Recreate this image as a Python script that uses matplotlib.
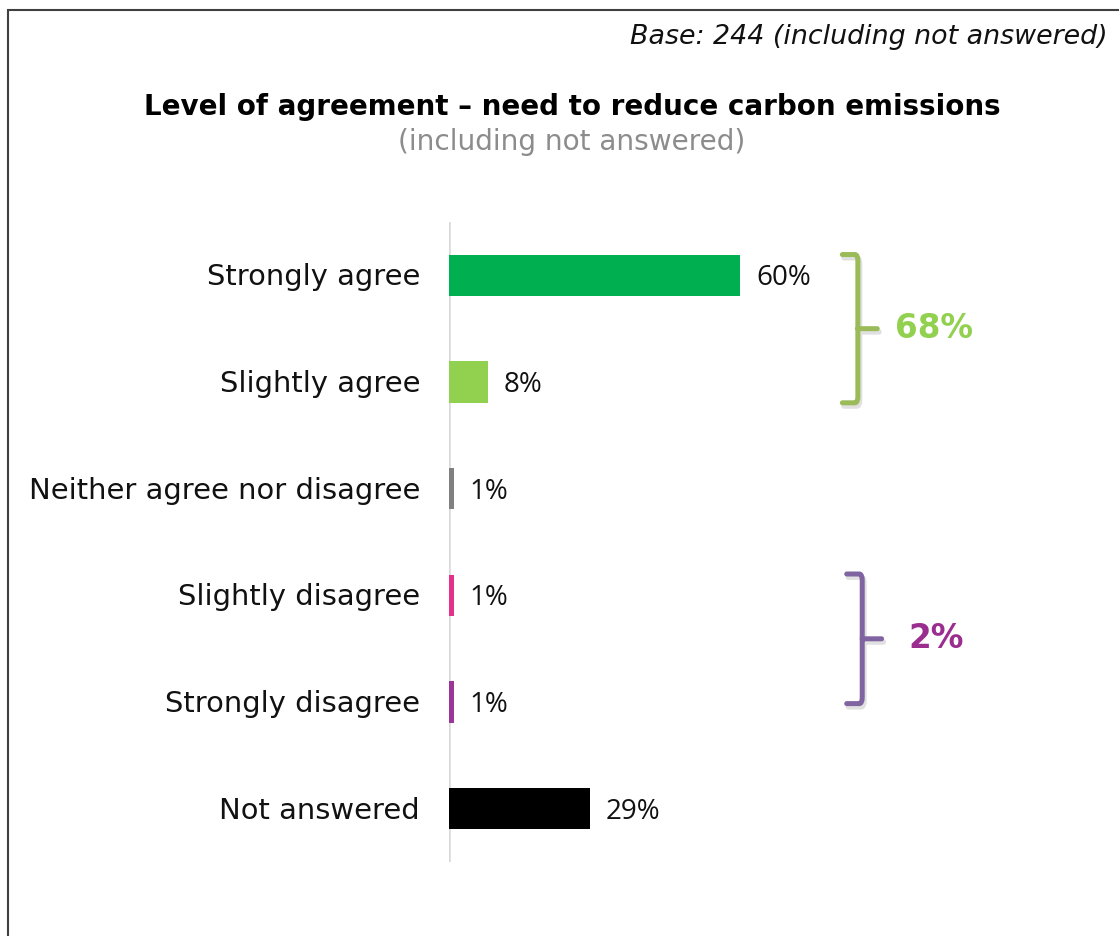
import numpy as np
import matplotlib
matplotlib.use('Agg')
import matplotlib.pyplot as plt
from matplotlib.path import Path
from matplotlib.patches import PathPatch, Rectangle

categories = ['Strongly agree', 'Slightly agree', 'Neither agree nor disagree',
              'Slightly disagree', 'Strongly disagree', 'Not answered']
values = [60, 8, 1, 1, 1, 29]
colors = ['#00B050', '#92D050', '#808080', '#E6318C', '#9B3597', '#000000']

# groups summed into the bracket totals
agree_idx = [0, 1]
disagree_idx = [3, 4]

fig = plt.figure(figsize=(11.19, 9.36), dpi=100)
W, H = 1119, 936

# outer frame
fig.patches.append(Rectangle((8 / W, -0.1), 1.2, (936 - 10) / H + 0.1, transform=fig.transFigure,
                             fill=False, edgecolor='#404040', linewidth=1.5))

# axes: left edge at the zero line, 4.85 px per percent
ax_left, ax_top, ax_bot = 449, 222, 862
ax = fig.add_axes([ax_left / W, 1 - ax_bot / H, (W - ax_left) / W, (ax_bot - ax_top) / H])
ax.set_xlim(0, (W - ax_left) / 4.85)
ax.set_ylim(len(categories) - 0.5, -0.5)
ax.axis('off')
ax.axvline(0, color='#D9D9D9', linewidth=1.8, zorder=0)

y = np.arange(len(categories))
ax.barh(y, values, height=0.39, color=colors, zorder=2)

for yi, v, cat in zip(y, values, categories):
    ax.annotate(f'{v}%', xy=(v, yi), xytext=(16, -3), textcoords='offset pixels',
                va='center', ha='left', fontsize=20, family='Open Sans', color='#111111')
    ax.annotate(cat, xy=(0, yi), xytext=(-29, -2), textcoords='offset pixels',
                va='center', ha='right', fontsize=20.9, color='#111111')


def bracket(ax, x, y0, y1, color, label, label_color, label_gap):
    # right-facing curly bracket with a short nub in the middle
    ym = (y0 + y1) / 2
    ext = 3.2
    r = 0.06
    verts = [(x - ext, y0), (x - 0.6, y0), (x, y0), (x, y0 + r),
             (x, ym), (x + ext + 0.8, ym), (x, ym),
             (x, y1 - r), (x, y1), (x - 0.6, y1), (x - ext, y1)]
    codes = [Path.MOVETO, Path.LINETO, Path.CURVE3, Path.CURVE3,
             Path.LINETO, Path.LINETO, Path.MOVETO,
             Path.LINETO, Path.CURVE3, Path.CURVE3, Path.LINETO]
    shadow = PathPatch(Path([(vx + 0.35, vy + 0.03) for vx, vy in verts], codes),
                       fill=False, edgecolor='#000000', alpha=0.12, linewidth=4,
                       capstyle='round', joinstyle='round', zorder=1)
    ax.add_patch(shadow)
    ax.add_patch(PathPatch(Path(verts, codes), fill=False, edgecolor=color, linewidth=3.6,
                           capstyle='round', joinstyle='round', zorder=2))
    ax.text(x + ext + label_gap, ym, label, va='center', ha='left', fontsize=23.5,
            fontweight='bold', color=label_color)


agree_total = sum(values[i] for i in agree_idx)
disagree_total = sum(values[i] for i in disagree_idx)
bracket(ax, 84.3, agree_idx[0] - 0.195, agree_idx[-1] + 0.195, '#9BBB59',
        f'{agree_total}%', '#92D050', 4.5)
bracket(ax, 85.2, disagree_idx[0] - 0.2, disagree_idx[-1] + 0.015, '#8064A2',
        f'{disagree_total}%', '#9B2D8E', 6.3)

fig.text(1108 / W, 1 - 37 / H, 'Base: 244 (including not answered)', ha='right', va='center',
         fontsize=19.4, style='italic', color='#111111')
fig.text(572 / W, 1 - 107 / H, 'Level of agreement – need to reduce carbon emissions',
         ha='center', va='center', fontsize=20, fontweight='bold', color='#000000')
fig.text(572 / W, 1 - 142 / H, '(including not answered)', ha='center', va='center',
         fontsize=20.2, color='#8C8C8C')

fig.savefig('out.png', dpi=100, facecolor='white')
